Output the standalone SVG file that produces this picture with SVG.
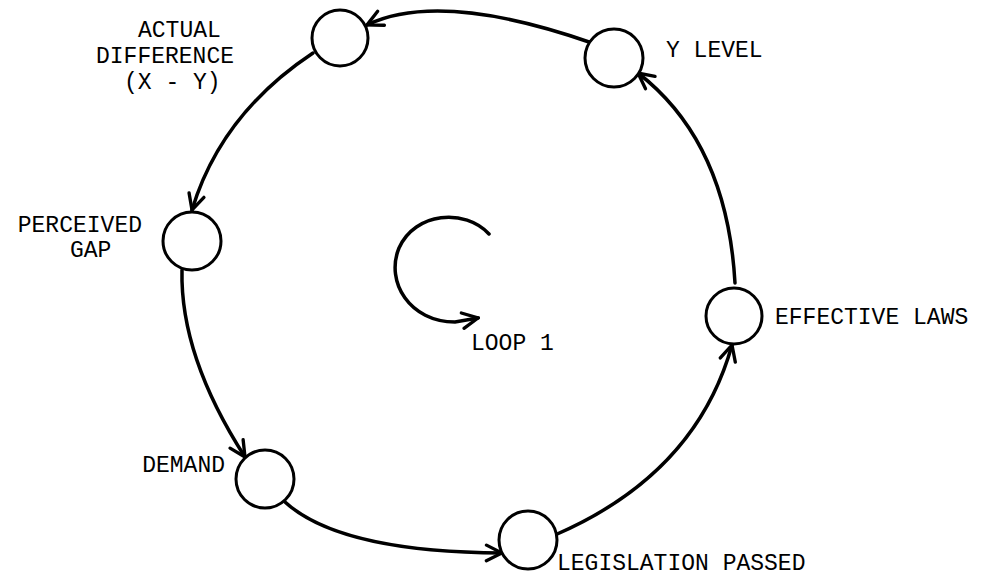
<svg xmlns="http://www.w3.org/2000/svg" width="984" height="577" viewBox="0 0 984 577">
<style>
.node{fill:#fff;stroke:#000;stroke-width:3}
.edge{fill:none;stroke:#000;stroke-width:3.5;stroke-linecap:round}
.lbl{font-family:"Liberation Mono","DejaVu Sans Mono",monospace;font-size:23px;fill:#000}
</style>
<defs>
<marker id="arr" markerUnits="userSpaceOnUse" markerWidth="20" markerHeight="20" viewBox="-16 -8 18 16" refX="0" refY="0" orient="auto">
<path d="M-14,-7 L0,0 L-14,7" fill="none" stroke="#000" stroke-width="3" stroke-linejoin="miter" stroke-linecap="round"/>
</marker>
</defs>
<rect width="984" height="577" fill="#fff"/>
<g id="connectors">
<path class="edge" d="M592,43 Q440,-10 367,25" marker-end="url(#arr)"/>
<path class="edge" d="M313,53 Q221,114 192,210" marker-end="url(#arr)" stroke-width="4.5"/>
<path class="edge" d="M182,270 Q180,356 245,457" marker-end="url(#arr)"/>
<path class="edge" d="M285,502 Q340,552 502,553" marker-end="url(#arr)" stroke-width="5"/>
<path class="edge" d="M555,535 Q696,474 732,345" marker-end="url(#arr)"/>
<path class="edge" d="M735,283 Q727,142 638,73" marker-end="url(#arr)"/>
</g>
<g id="loop1">
<path class="edge" d="M489,234 C465,208 415,212 399,248 C385,282 410,322 455,322 L478,318" marker-end="url(#arr)" stroke-width="2.5"/>
<text class="lbl" x="471" y="350">LOOP 1</text>
</g>
<g id="actual-difference">
<circle class="node" cx="340" cy="38" r="28"/>
<text class="lbl" x="138" y="37">ACTUAL</text>
<text class="lbl" x="96" y="63">DIFFERENCE</text>
<text class="lbl" x="124" y="89">(X - Y)</text>
</g>
<g id="y-level">
<circle class="node" cx="614" cy="58" r="29"/>
<text class="lbl" x="666" y="57">Y LEVEL</text>
</g>
<g id="perceived-gap">
<circle class="node" cx="192" cy="241" r="29"/>
<text class="lbl" x="142" y="232" text-anchor="end">PERCEIVED</text>
<text class="lbl" x="70" y="257">GAP</text>
</g>
<g id="effective-laws">
<circle class="node" cx="734" cy="316" r="28"/>
<text class="lbl" x="775" y="324">EFFECTIVE LAWS</text>
</g>
<g id="demand">
<circle class="node" cx="265" cy="479" r="29"/>
<text class="lbl" x="225" y="472" text-anchor="end">DEMAND</text>
</g>
<g id="legislation-passed">
<circle class="node" cx="528" cy="540" r="29"/>
<text class="lbl" x="557" y="570">LEGISLATION PASSED</text>
</g>
</svg>
